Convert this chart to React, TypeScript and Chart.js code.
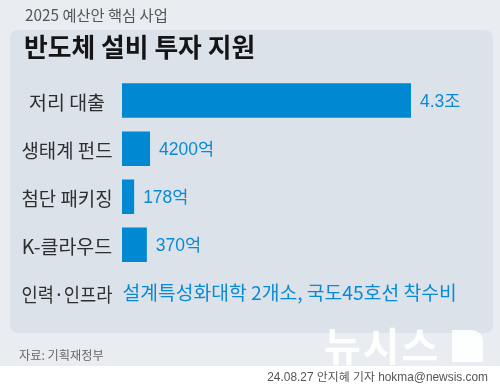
import React, { useEffect, useRef } from "react";
import { Chart, registerables } from "chart.js";
Chart.register(...registerables);

const headerText = "2025 예산안 핵심 사업";
const titleText = "반도체 설비 투자 지원";
const categories = ["저리 대출", "생태계 펀드", "첨단 패키징", "K-클라우드", "인력·인프라"];
const amountLabels = ["4.3조", "4200억", "178억", "370억", "설계특성화대학 2개소, 국도45호선 착수비"];
// bar lengths as drawn in the graphic, in % of the longest bar (last row has no bar)
const barLengths: (number | null)[] = [100, 9.7, 4.2, 8.6, null];
const sourceText = "자료: 기획재정부";
const bylineText = "24.08.27 안지혜 기자 hokma@newsis.com";
const watermarkText = "뉴시스";

const KR = '"Noto Sans CJK KR", "Noto Sans", sans-serif';
const NUM = '"Liberation Sans", "Noto Sans CJK KR", sans-serif';
const BLUE = "#0a8ad3";

function roundRect(ctx: CanvasRenderingContext2D, x: number, y: number, w: number, h: number, r: number) {
  ctx.beginPath();
  ctx.moveTo(x + r, y);
  ctx.lineTo(x + w - r, y);
  ctx.quadraticCurveTo(x + w, y, x + w, y + r);
  ctx.lineTo(x + w, y + h - r);
  ctx.quadraticCurveTo(x + w, y + h, x + w - r, y + h);
  ctx.lineTo(x + r, y + h);
  ctx.quadraticCurveTo(x, y + h, x, y + h - r);
  ctx.lineTo(x, y + r);
  ctx.quadraticCurveTo(x, y, x + r, y);
  ctx.closePath();
}

const decorPlugin = {
  id: "decor",
  beforeDraw(chart: any) {
    const ctx: CanvasRenderingContext2D = chart.ctx;
    ctx.save();
    ctx.fillStyle = "#e9edf2";
    ctx.fillRect(0, 0, 500, 366);
    ctx.fillStyle = "#ffffff";
    ctx.fillRect(0, 366, 500, 24);
    ctx.fillStyle = "#dbe2ea";
    roundRect(ctx, 10, 30, 483, 303, 9);
    ctx.fill();

    ctx.textBaseline = "middle";
    ctx.textAlign = "left";
    ctx.fillStyle = "#555555";
    ctx.font = `15.3px ${KR}`;
    ctx.fillText(headerText, 25, 15);

    ctx.fillStyle = "#151515";
    ctx.font = `bold 25.8px ${KR}`;
    ctx.fillText(titleText, 24, 47);

    ctx.fillStyle = "#666666";
    ctx.font = `12.2px ${KR}`;
    ctx.fillText(sourceText, 19, 355);

    ctx.fillStyle = "#555555";
    ctx.font = `11.9px ${NUM}`;
    ctx.textAlign = "right";
    ctx.fillText(bylineText, 488, 378);
    ctx.restore();
  },
  afterDatasetsDraw(chart: any) {
    const ctx: CanvasRenderingContext2D = chart.ctx;
    const yScale = chart.scales.y;
    const meta = chart.getDatasetMeta(0);
    ctx.save();
    ctx.textBaseline = "middle";
    categories.forEach((c, i) => {
      const y = yScale.getPixelForTick(i);
      ctx.fillStyle = "#2e2e2e";
      ctx.font = `19.5px ${KR}`;
      ctx.textAlign = "center";
      ctx.fillText(c, 67, y + 2, 91);
      const v = barLengths[i];
      ctx.fillStyle = BLUE;
      ctx.textAlign = "left";
      if (v === null) {
        ctx.font = `19.3px ${KR}`;
        ctx.fillText(amountLabels[i], chart.chartArea.left + 0.5, y);
      } else {
        const bar = meta.data[i];
        ctx.font = `17.5px ${NUM}`;
        ctx.fillText(amountLabels[i], bar.x + 9, y + 1.5);
      }
    });
    ctx.restore();
  },
  afterDraw(chart: any) {
    const ctx: CanvasRenderingContext2D = chart.ctx;
    ctx.save();
    ctx.globalAlpha = 0.9;
    ctx.fillStyle = "#ffffff";
    ctx.font = `bold 40px ${KR}`;
    (ctx as any).letterSpacing = "2px";
    ctx.textBaseline = "middle";
    ctx.textAlign = "left";
    ctx.fillText(watermarkText, 324, 346);
    // D-shaped logo mark
    ctx.beginPath();
    ctx.moveTo(452, 330);
    ctx.lineTo(470, 330);
    ctx.quadraticCurveTo(483, 330, 483, 343);
    ctx.lineTo(483, 362);
    ctx.lineTo(452, 362);
    ctx.closePath();
    ctx.fill();
    ctx.restore();
  },
};

export default function App() {
  const ref = useRef<HTMLCanvasElement>(null);
  useEffect(() => {
    if (!ref.current) return;
    const chart = new Chart(ref.current, {
      type: "bar",
      data: {
        labels: categories,
        datasets: [
          {
            data: barLengths,
            backgroundColor: "#0089d2",
            borderWidth: 0,
            barPercentage: 0.717,
            categoryPercentage: 1,
          },
        ],
      },
      options: {
        indexAxis: "y",
        responsive: false,
        animation: false,
        layout: { padding: { left: 122, right: 89, top: 76.5, bottom: 73 } },
        scales: {
          x: { display: false, min: 0, max: 100 },
          y: { display: false },
        },
        plugins: {
          legend: { display: false },
          tooltip: { enabled: false },
          title: { display: false },
        },
      },
      plugins: [decorPlugin],
    });
    return () => chart.destroy();
  }, []);
  return (
    <div style={{ position: "absolute", left: 0, top: 0, width: 500, height: 390 }}>
      <canvas ref={ref} width={500} height={390} />
    </div>
  );
}
